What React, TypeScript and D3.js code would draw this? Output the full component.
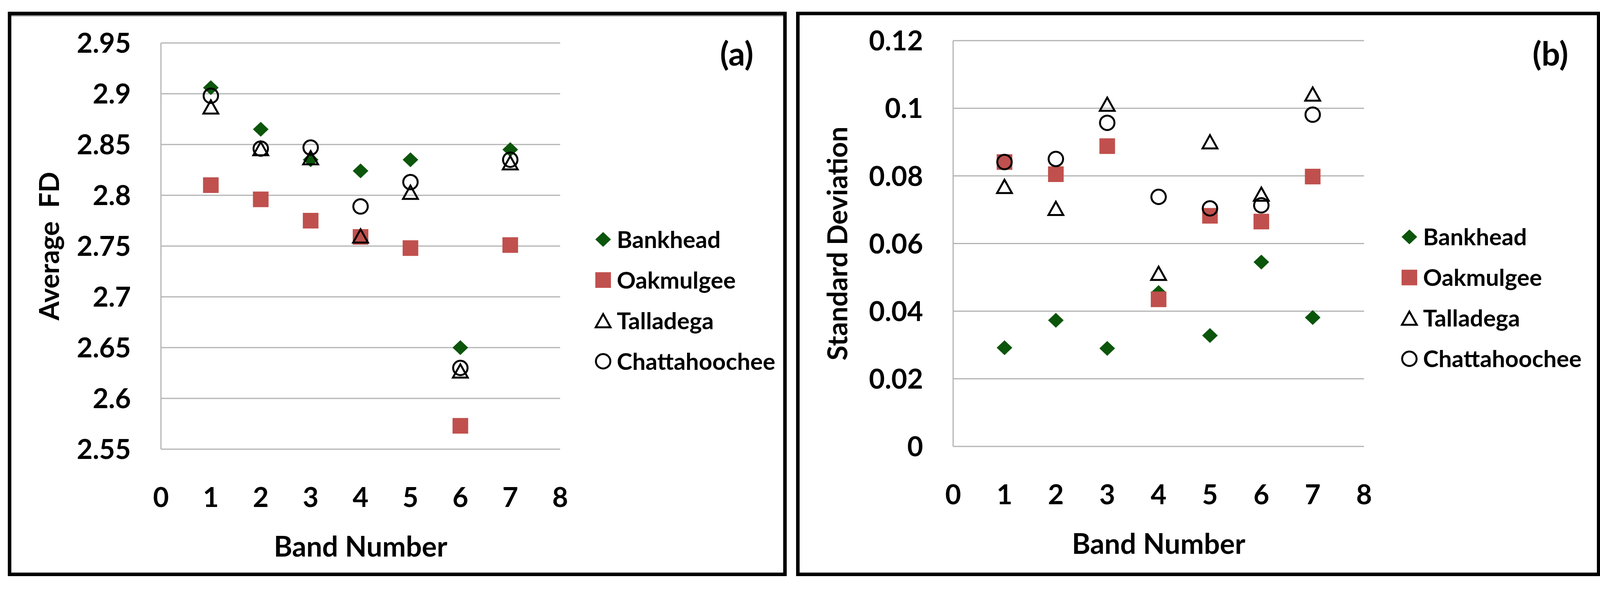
import React from "react";
import * as d3 from "d3";

const bands = [1, 2, 3, 4, 5, 6, 7];
const seriesNames = ["Bankhead", "Oakmulgee", "Talladega", "Chattahoochee"];

const fdBankhead = [2.906, 2.865, 2.835, 2.824, 2.835, 2.65, 2.845];
const fdOakmulgee = [2.81, 2.796, 2.775, 2.759, 2.748, 2.573, 2.751];
const fdTalladega = [2.887, 2.846, 2.837, 2.76, 2.803, 2.627, 2.832];
const fdChattahoochee = [2.898, 2.846, 2.847, 2.789, 2.813, 2.63, 2.835];

const sdBankhead = [0.0292, 0.0373, 0.029, 0.0455, 0.0328, 0.0545, 0.0381];
const sdOakmulgee = [0.0841, 0.0805, 0.0888, 0.0435, 0.0682, 0.0665, 0.0798];
const sdTalladega = [0.0769, 0.0704, 0.1012, 0.0512, 0.0901, 0.0746, 0.1042];
const sdChattahoochee = [0.0841, 0.085, 0.0957, 0.0738, 0.0704, 0.0713, 0.0981];

const xTicks = [0, 1, 2, 3, 4, 5, 6, 7, 8];
const fdTicks = [2.55, 2.6, 2.65, 2.7, 2.75, 2.8, 2.85, 2.9, 2.95];
const sdTicks = [0, 0.02, 0.04, 0.06, 0.08, 0.1, 0.12];

const W = 4123;
const H = 1508;
const FONT = "Lato, 'Open Sans', 'DejaVu Sans', sans-serif";
const GREEN = "#0b560b";
const RED = "#c0504d";
const GRID = "#b3b3b3";

const fmt = (v: number) => String(+v.toFixed(3));

function Marker({ kind, x, y }: { kind: number; x: number; y: number }) {
  if (kind === 0) {
    const hw = 20, hh = 19;
    return <path d={`M${x},${y - hh}L${x + hw},${y}L${x},${y + hh}L${x - hw},${y}Z`} fill={GREEN} />;
  }
  if (kind === 1) {
    return <rect x={x - 20} y={y - 20} width={40} height={40} fill={RED} />;
  }
  if (kind === 2) {
    const hw = 19, hh = 17;
    return (
      <path
        d={`M${x},${y - hh}L${x + hw},${y + hh}L${x - hw},${y + hh}Z`}
        fill="none"
        stroke="#000"
        strokeWidth={5}
        strokeLinejoin="miter"
      />
    );
  }
  return <circle cx={x} cy={y} r={18.5} fill="none" stroke="#000" strokeWidth={5} />;
}

type PanelProps = {
  left: number;
  right: number;
  plotLeft: number;
  plotRight: number;
  plotTop: number;
  plotBottom: number;
  domain: [number, number];
  ticks: number[];
  series: number[][];
  yTitle: string;
  tag: string;
  legendDx: number;
  topShade?: boolean;
};

function Panel(p: PanelProps) {
  const x = d3.scaleLinear().domain([0, 8]).range([p.plotLeft, p.plotRight]);
  const y = d3.scaleLinear().domain(p.domain).range([p.plotBottom, p.plotTop]);
  const top = 30, bottom = 1475, bw = 9;
  const cy = (p.plotTop + p.plotBottom) / 2;
  const cx = (p.plotLeft + p.plotRight) / 2;
  const legX = p.plotRight + p.legendDx;
  return (
    <g>
      <rect
        x={p.left + bw / 2}
        y={top + bw / 2}
        width={p.right - p.left - bw}
        height={bottom - top - bw}
        fill="#fff"
        stroke="#000"
        strokeWidth={bw}
      />
      {p.topShade && (
        <line x1={p.left + bw} x2={p.right - bw} y1={top + bw + 1.5} y2={top + bw + 1.5} stroke="#999" strokeWidth={3} />
      )}
      {p.ticks.map((t) => (
        <line key={"g" + t} x1={p.plotLeft} x2={p.plotRight} y1={y(t)} y2={y(t)} stroke={GRID} strokeWidth={3} />
      ))}
      <line x1={p.plotLeft} x2={p.plotLeft} y1={p.plotTop} y2={p.plotBottom} stroke={GRID} strokeWidth={3} />
      {p.ticks.map((t) => (
        <text
          key={"yt" + t}
          x={p.plotLeft - 77}
          y={y(t)}
          dy="0.36em"
          textAnchor="end"
          fontFamily={FONT}
          fontWeight="bold"
          fontSize={70}
        >
          {fmt(t)}
        </text>
      ))}
      {xTicks.map((t) => (
        <text
          key={"xt" + t}
          x={x(t)}
          y={p.plotBottom + 123}
          dy="0.36em"
          textAnchor="middle"
          fontFamily={FONT}
          fontWeight="bold"
          fontSize={70}
        >
          {t}
        </text>
      ))}
      <text x={cx} y={p.plotBottom + 275} textAnchor="middle" fontFamily={FONT} fontWeight="bold" fontSize={72}>
        Band Number
      </text>
      <text
        transform={`translate(${p.left + 106},${cy}) rotate(-90)`}
        dy="0.36em"
        textAnchor="middle"
        fontFamily={FONT}
        fontWeight="bold"
        fontSize={70}
        style={{ whiteSpace: "pre" }}
      >
        {p.yTitle}
      </text>
      <text x={p.right - 128} y={138} dy="0.36em" textAnchor="middle" fontFamily={FONT} fontWeight="bold" fontSize={84}>
        {p.tag}
      </text>
      {p.series.map((vals, si) => (
        <g key={"s" + si}>
          {vals.map((v, i) => (
            <Marker key={i} kind={si} x={x(bands[i])} y={y(v)} />
          ))}
        </g>
      ))}
      {seriesNames.map((n, i) => {
        const ly = cy - 17 + i * 104;
        return (
          <g key={"l" + n}>
            <Marker kind={i} x={legX} y={ly} />
            <text x={legX + 35} y={ly} dy="0.36em" fontFamily={FONT} fontWeight="bold" fontSize={60}>
              {n}
            </text>
          </g>
        );
      })}
    </g>
  );
}

export default function App() {
  return (
    <svg
      width={W}
      height={H}
      viewBox={`0 0 ${W} ${H}`}
      style={{ position: "absolute", left: 0, top: 0, background: "#fff" }}
    >
      <rect x={0} y={0} width={W} height={H} fill="#fff" />
      <Panel
        left={20}
        right={2014}
        plotLeft={412}
        plotRight={1434}
        plotTop={110}
        plotBottom={1150}
        domain={[2.55, 2.95]}
        ticks={fdTicks}
        series={[fdBankhead, fdOakmulgee, fdTalladega, fdChattahoochee]}
        yTitle={"Average  FD"}
        tag="(a)"
        legendDx={110}
        topShade
      />
      <Panel
        left={2038}
        right={4097}
        plotLeft={2440}
        plotRight={3492}
        plotTop={104}
        plotBottom={1143}
        domain={[0, 0.12]}
        ticks={sdTicks}
        series={[sdBankhead, sdOakmulgee, sdTalladega, sdChattahoochee]}
        yTitle="Standard Deviation"
        tag="(b)"
        legendDx={116}
      />
    </svg>
  );
}
